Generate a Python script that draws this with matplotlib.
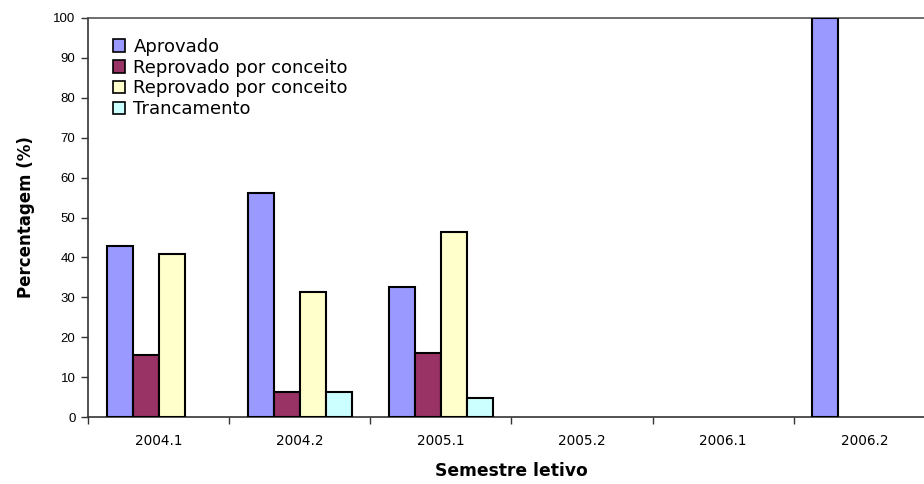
import matplotlib
matplotlib.use("Agg")
import matplotlib.pyplot as plt
import numpy as np

plt.rcParams["font.family"] = ["DejaVu Sans"]

semestres = ["2004.1", "2004.2", "2005.1", "2005.2", "2006.1", "2006.2"]
series_nomes = ["Aprovado", "Reprovado por conceito", "Reprovado por conceito", "Trancamento"]
aprovado = [42.9, 56.1, 32.7, 0, 0, 100]
reprovado_conceito = [15.6, 6.3, 16.1, 0, 0, 0]
reprovado_conceito_2 = [40.9, 31.3, 46.3, 0, 0, 0]
trancamento = [0, 6.3, 4.8, 0, 0, 0]
cores = ["#9999FF", "#993366", "#FFFFCC", "#CCFFFF"]

W, H = 924, 484
fig = plt.figure(figsize=(W / 100, H / 100), dpi=100)
ax_left, ax_right, ax_top, ax_bottom = 88, 935, 18, 417
ax = fig.add_axes([ax_left / W, (H - ax_bottom) / H,
                   (ax_right - ax_left) / W, (ax_bottom - ax_top) / H])

x = np.arange(len(semestres))
largura = 0.184
valores = [aprovado, reprovado_conceito, reprovado_conceito_2, trancamento]
for i, (vals, cor, nome) in enumerate(zip(valores, cores, series_nomes)):
    pos = x + (i - 1.5) * largura
    vals = np.array(vals, dtype=float)
    mask = vals > 0
    ax.bar(pos[mask], vals[mask], width=largura, color=cor,
           edgecolor="black", linewidth=1.5, zorder=3)
    ax.bar([np.nan], [0], width=largura, color=cor, edgecolor="black",
           linewidth=1.2, label=nome)

ax.set_xlim(-0.5, len(semestres) - 0.5)
ax.set_ylim(0, 100)
ax.set_yticks(np.arange(0, 101, 10))
ax.set_yticklabels([str(v) for v in range(0, 101, 10)],
                   fontsize=9.5, family="Liberation Sans")
ax.set_xticks(x)
ax.set_xticklabels(semestres, fontsize=9.8)
ax.set_xticks(np.arange(-0.5, len(semestres)), minor=True)
ax.tick_params(axis="x", which="major", length=0, pad=12)
ax.tick_params(axis="x", which="minor", length=5, width=1.0, color="#333333", direction="out")
ax.tick_params(axis="y", length=5, width=1.0, color="#333333", pad=4)

for lado in ["left", "bottom", "top"]:
    ax.spines[lado].set_color("#333333")
    ax.spines[lado].set_linewidth(1.2)
ax.spines["top"].set_color("#555555")
ax.spines["right"].set_visible(False)

ax.set_ylabel("Percentagem (%)", fontsize=12, fontweight="bold", labelpad=13)
ax.set_xlabel("Semestre letivo", fontsize=12.3, fontweight="bold", labelpad=10)

leg = ax.legend(loc="upper left", bbox_to_anchor=(0.0295, 0.95), frameon=False,
                fontsize=13, handlelength=0.68, handleheight=0.68,
                handletextpad=0.45, labelspacing=0.15, borderaxespad=0,
                borderpad=0)

fig.savefig("out.png", dpi=100)
